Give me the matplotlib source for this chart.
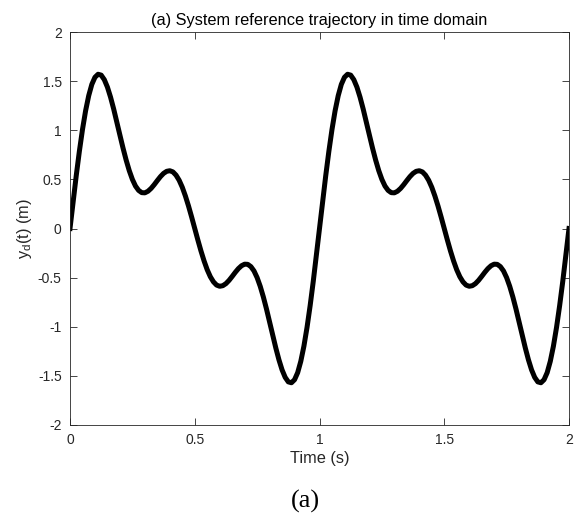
import matplotlib
matplotlib.use("Agg")
import matplotlib.pyplot as plt

tempo = [
    0.0, 0.0125, 0.025, 0.0375, 0.05, 0.0625, 0.075, 0.0875, 0.1, 0.1125,
    0.125, 0.1375, 0.15, 0.1625, 0.175, 0.1875, 0.2, 0.2125, 0.225, 0.2375,
    0.25, 0.2625, 0.275, 0.2875, 0.3, 0.3125, 0.325, 0.3375, 0.35, 0.3625,
    0.375, 0.3875, 0.4, 0.4125, 0.425, 0.4375, 0.45, 0.4625, 0.475, 0.4875,
    0.5, 0.5125, 0.525, 0.5375, 0.55, 0.5625, 0.575, 0.5875, 0.6, 0.6125,
    0.625, 0.6375, 0.65, 0.6625, 0.675, 0.6875, 0.7, 0.7125, 0.725, 0.7375,
    0.75, 0.7625, 0.775, 0.7875, 0.8, 0.8125, 0.825, 0.8375, 0.85, 0.8625,
    0.875, 0.8875, 0.9, 0.9125, 0.925, 0.9375, 0.95, 0.9625, 0.975, 0.9875,
    1.0, 1.0125, 1.025, 1.0375, 1.05, 1.0625, 1.075, 1.0875, 1.1, 1.1125,
    1.125, 1.1375, 1.15, 1.1625, 1.175, 1.1875, 1.2, 1.2125, 1.225, 1.2375,
    1.25, 1.2625, 1.275, 1.2875, 1.3, 1.3125, 1.325, 1.3375, 1.35, 1.3625,
    1.375, 1.3875, 1.4, 1.4125, 1.425, 1.4375, 1.45, 1.4625, 1.475, 1.4875,
    1.5, 1.5125, 1.525, 1.5375, 1.55, 1.5625, 1.575, 1.5875, 1.6, 1.6125,
    1.625, 1.6375, 1.65, 1.6625, 1.675, 1.6875, 1.7, 1.7125, 1.725, 1.7375,
    1.75, 1.7625, 1.775, 1.7875, 1.8, 1.8125, 1.825, 1.8375, 1.85, 1.8625,
    1.875, 1.8875, 1.9, 1.9125, 1.925, 1.9375, 1.95, 1.9625, 1.975, 1.9875,
    2.0,
]
yd = [
    0.0, 0.273, 0.538, 0.785, 1.007, 1.198, 1.352, 1.467, 1.539, 1.570,
    1.561, 1.515, 1.439, 1.337, 1.217, 1.086, 0.951, 0.819, 0.697, 0.589,
    0.5, 0.432, 0.388, 0.365, 0.363, 0.379, 0.408, 0.446, 0.488, 0.528,
    0.561, 0.582, 0.588, 0.576, 0.543, 0.491, 0.420, 0.331, 0.229, 0.117,
    0.0, -0.117, -0.229, -0.331, -0.420, -0.491, -0.543, -0.576, -0.588, -0.582,
    -0.561, -0.528, -0.488, -0.446, -0.408, -0.379, -0.363, -0.365, -0.388, -0.432,
    -0.5, -0.589, -0.697, -0.819, -0.951, -1.086, -1.217, -1.337, -1.439, -1.515,
    -1.561, -1.570, -1.539, -1.467, -1.352, -1.198, -1.007, -0.785, -0.538, -0.273,
    0.0, 0.273, 0.538, 0.785, 1.007, 1.198, 1.352, 1.467, 1.539, 1.570,
    1.561, 1.515, 1.439, 1.337, 1.217, 1.086, 0.951, 0.819, 0.697, 0.589,
    0.5, 0.432, 0.388, 0.365, 0.363, 0.379, 0.408, 0.446, 0.488, 0.528,
    0.561, 0.582, 0.588, 0.576, 0.543, 0.491, 0.420, 0.331, 0.229, 0.117,
    0.0, -0.117, -0.229, -0.331, -0.420, -0.491, -0.543, -0.576, -0.588, -0.582,
    -0.561, -0.528, -0.488, -0.446, -0.408, -0.379, -0.363, -0.365, -0.388, -0.432,
    -0.5, -0.589, -0.697, -0.819, -0.951, -1.086, -1.217, -1.337, -1.439, -1.515,
    -1.561, -1.570, -1.539, -1.467, -1.352, -1.198, -1.007, -0.785, -0.538, -0.273,
    0.0,
]

xticks = [0, 0.5, 1, 1.5, 2]
xticklabels = ["0", "0.5", "1", "1.5", "2"]
yticks = [-2, -1.5, -1, -0.5, 0, 0.5, 1, 1.5, 2]
yticklabels = ["-2", "-1.5", "-1", "-0.5", "0", "0.5", "1", "1.5", "2"]

CINZA = "#262626"

plt.rcParams["font.family"] = ["Liberation Sans", "DejaVu Sans"]

fig = plt.figure(figsize=(5.77, 5.13), dpi=100)
ax = fig.add_axes([70 / 577, 1 - 425 / 513, 499 / 577, 393 / 513])

ax.plot(tempo, yd, color="black", linewidth=3.6, solid_joinstyle="round")

ax.set_xlim(0, 2)
ax.set_ylim(-2, 2)
ax.set_xticks(xticks)
ax.set_xticklabels(xticklabels)
ax.set_yticks(yticks)
ax.set_yticklabels(yticklabels)
ax.tick_params(direction="in", length=5, width=0.6, colors=CINZA,
               labelsize=10, top=True, right=True, pad=6)
for lado in ax.spines.values():
    lado.set_color(CINZA)
    lado.set_linewidth(0.6)

ax.set_title("(a) System reference trajectory in time domain",
             fontsize=11.8, color="black", pad=5)
ax.set_xlabel("Time (s)", fontsize=11.8, color=CINZA, labelpad=3)
ax.set_ylabel("y$_\\mathregular{d}$(t) (m)", fontsize=11.8, color=CINZA, labelpad=3)

fig.text(305 / 577, 1 - 501 / 513, "(a)", ha="center", va="center",
         fontsize=19, family="Liberation Serif")

fig.savefig("out.png", dpi=100)
plt.close(fig)
